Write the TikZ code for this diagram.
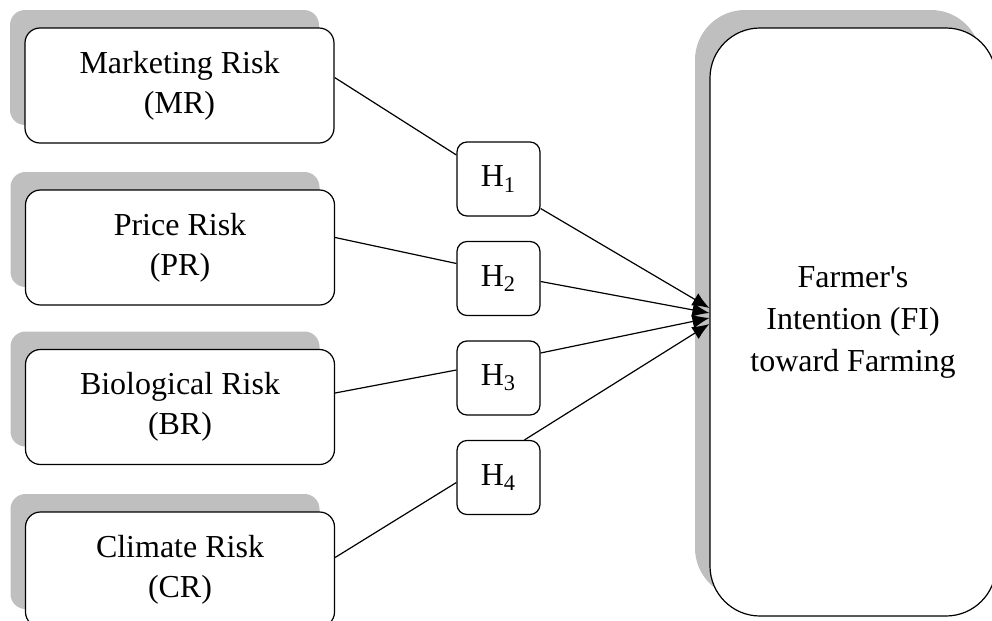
\documentclass[tikz,border=0pt]{standalone}
\usepackage{fontspec}
\setmainfont{Liberation Serif}
\usetikzlibrary{shadows,arrows.meta}
\tikzset{
	riskbox/.style={draw, line width=0.6pt, rounded corners=7.5pt, fill=white, align=center,
		minimum width=154.5pt, minimum height=57.5pt, inner sep=0pt,
		font=\fontsize{16}{20}\selectfont,
		copy shadow={shadow xshift=-7.5pt, shadow yshift=9pt, fill=black!25, draw=none}},
	hypbox/.style={draw, line width=0.6pt, rounded corners=5pt, fill=white,
		minimum width=41.5pt, minimum height=37pt, inner sep=0pt,
		font=\fontsize{16}{20}\selectfont},
	fibox/.style={riskbox, rounded corners=25pt, minimum width=143pt, minimum height=294pt,
		font=\fontsize{16}{21}\selectfont},
	link/.style={line width=0.6pt},
	linkarrow/.style={line width=0.6pt, -{Latex[length=8.5pt,width=7pt]}}
}

\begin{document}
\begin{tikzpicture}[x=0.5pt, y=-0.5pt]
			%%%%% START %%%%%
			\useasboundingbox (0, 0) rectangle (992, 621);
			
			\node[riskbox] (MR) at (179.5, 85.5) {Marketing Risk\\(MR)};
			\node[riskbox] (PR) at (180, 247.5) {Price Risk\\(PR)};
			\node[riskbox] (BR) at (180, 407) {Biological Risk\\(BR)};
			\node[riskbox] (CR) at (180, 569.5) {Climate Risk\\(CR)};
			
			\node[hypbox] (H1) at (498.5, 179) {H\textsubscript{1}};
			\node[hypbox] (H2) at (498.5, 278.5) {H\textsubscript{2}};
			\node[hypbox] (H3) at (498.5, 378) {H\textsubscript{3}};
			\node[hypbox] (H4) at (498.5, 477.5) {H\textsubscript{4}};
			
			\node[fibox] (FI) at (853, 322) {Farmer\textquotesingle s\\Intention (FI)\\toward Farming};
			
			% arrow ends on the left side of FI
			\coordinate (t1) at ([yshift=7pt]FI.west);
			\coordinate (t2) at ([yshift=4.5pt]FI.west);
			\coordinate (t3) at ([yshift=2pt]FI.west);
			\coordinate (t4) at ([yshift=-1pt]FI.west);
			
			\draw[link] ([yshift=4pt]MR.east) -- ([yshift=12pt]H1.west);
			\draw[linkarrow] (H1.-35) -- (t1);
			
			\draw[link] ([yshift=5pt]PR.east) -- ([yshift=7.5pt]H2.west);
			\draw[linkarrow] ([yshift=-1.5pt]H2.east) -- (t2);
			
			\draw[link] ([yshift=7pt]BR.east) -- ([yshift=4pt]H3.west);
			\draw[linkarrow] ([yshift=12.5pt]H3.east) -- (t3);
			
			\draw[link] ([yshift=6pt]CR.east) -- ([yshift=-2.5pt]H4.west);
			\draw[linkarrow] ([xshift=13pt]H4.north) -- (t4);
			%%%%% END %%%%%
\end{tikzpicture}
\end{document}
